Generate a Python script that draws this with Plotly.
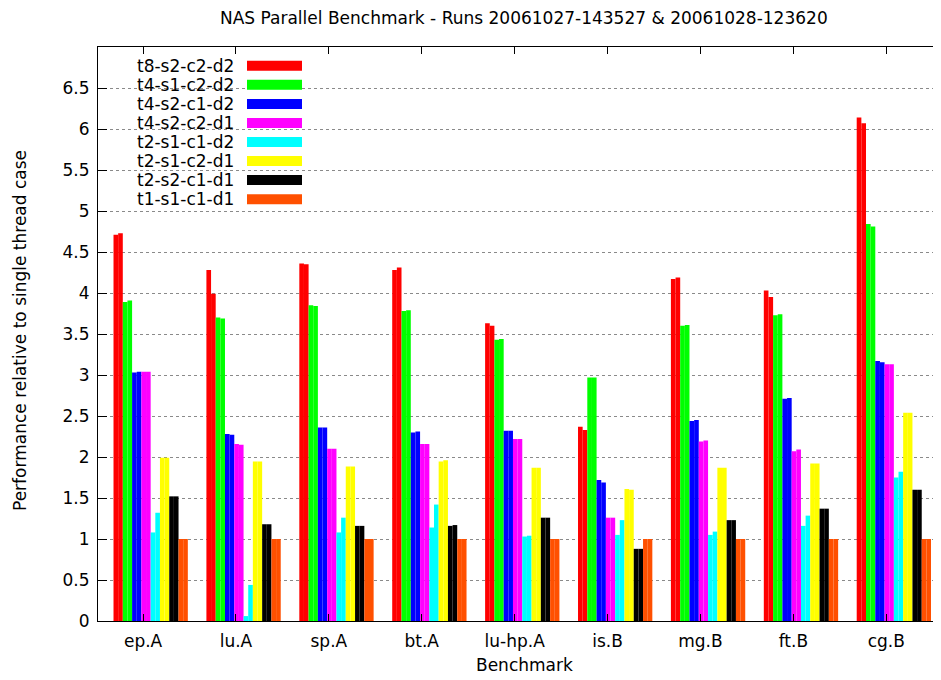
import plotly.graph_objects as go

benchmarks = ["ep.A", "lu.A", "sp.A", "bt.A", "lu-hp.A", "is.B", "mg.B", "ft.B", "cg.B"]
series_names = ["t8-s2-c2-d2", "t4-s1-c2-d2", "t4-s2-c1-d2", "t4-s2-c2-d1",
                "t2-s1-c1-d2", "t2-s1-c2-d1", "t2-s2-c1-d1", "t1-s1-c1-d1"]
series_colors = ["#ff0000", "#00ff00", "#0000ff", "#ff00ff",
                 "#00ffff", "#ffff00", "#000000", "#ff5000"]
y_ticks = [0, 0.5, 1, 1.5, 2, 2.5, 3, 3.5, 4, 4.5, 5, 5.5, 6, 6.5]

# first run (20061027-143527) and second run (20061028-123620)
t8s2c2d2_r1 = [4.71, 4.28, 4.36, 4.28, 3.63, 2.37, 4.17, 4.03, 6.14]
t8s2c2d2_r2 = [4.73, 3.99, 4.35, 4.31, 3.60, 2.33, 4.19, 3.95, 6.07]
t4s1c2d2_r1 = [3.89, 3.70, 3.85, 3.78, 3.43, 2.97, 3.60, 3.73, 4.84]
t4s1c2d2_r2 = [3.91, 3.69, 3.84, 3.79, 3.44, 2.97, 3.61, 3.74, 4.81]
t4s2c1d2_r1 = [3.03, 2.28, 2.36, 2.30, 2.32, 1.72, 2.44, 2.71, 3.17]
t4s2c1d2_r2 = [3.04, 2.27, 2.36, 2.31, 2.32, 1.69, 2.45, 2.72, 3.155]
t4s2c2d1_r1 = [3.04, 2.16, 2.10, 2.16, 2.22, 1.26, 2.19, 2.07, 3.13]
t4s2c2d1_r2 = [3.04, 2.15, 2.10, 2.16, 2.22, 1.26, 2.20, 2.09, 3.13]
t2s1c1d2_r1 = [1.08, 0.06, 1.08, 1.14, 1.03, 1.05, 1.05, 1.16, 1.75]
t2s1c1d2_r2 = [1.32, 0.44, 1.26, 1.42, 1.04, 1.23, 1.09, 1.285, 1.82]
t2s1c2d1_r1 = [1.99, 1.945, 1.885, 1.945, 1.87, 1.61, 1.87, 1.92, 2.54]
t2s1c2d1_r2 = [1.99, 1.945, 1.885, 1.96, 1.87, 1.60, 1.87, 1.92, 2.54]
t2s2c1d1_r1 = [1.52, 1.18, 1.16, 1.16, 1.26, 0.88, 1.23, 1.37, 1.60]
t2s2c1d1_r2 = [1.52, 1.18, 1.16, 1.17, 1.26, 0.88, 1.23, 1.37, 1.60]
t1s1c1d1_r1 = [1.0, 1.0, 1.0, 1.0, 1.0, 1.0, 1.0, 1.0, 1.0]
t1s1c1d1_r2 = [1.0, 1.0, 1.0, 1.0, 1.0, 1.0, 1.0, 1.0, 1.0]

runs = [
    (t8s2c2d2_r1, t8s2c2d2_r2),
    (t4s1c2d2_r1, t4s1c2d2_r2),
    (t4s2c1d2_r1, t4s2c1d2_r2),
    (t4s2c2d1_r1, t4s2c2d1_r2),
    (t2s1c1d2_r1, t2s1c1d2_r2),
    (t2s1c2d1_r1, t2s1c2d1_r2),
    (t2s2c1d1_r1, t2s2c1d1_r2),
    (t1s1c1d1_r1, t1s1c1d1_r2),
]

# page body has an 8px margin; lay out in page pixels and compensate
OFF = 8
W, H = 941, 680
L = 98 - OFF
T = 47 - OFF
B = H - (621 - OFF)
R = 0
PW, PH = W - L - R, H - T - B
FONT = "DejaVu Sans"
FS = 17

def px_x(p):
    return (p - OFF - L) / PW

def px_y(p):
    return (H - B - (p - OFF)) / PH

fig = go.Figure()
xs = list(range(len(benchmarks)))
slot = 0.1
start = -0.318
for s, (r1, r2) in enumerate(runs):
    for r, vals in enumerate((r1, r2)):
        fig.add_trace(go.Bar(
            x=xs, y=vals, name=series_names[s], showlegend=False,
            width=slot / 2, offset=start + s * slot + r * slot / 2,
            marker=dict(color=series_colors[s], line=dict(width=0)),
        ))

shapes = []
annotations = []
# legend box (opaque, hides grid)
shapes.append(dict(type="rect", xref="paper", yref="paper",
                   x0=px_x(99), x1=px_x(312), y0=px_y(208), y1=px_y(48),
                   fillcolor="white", line=dict(width=0), layer="between"))
row0, dy = 65.8, 19.05
for i, (nm, col) in enumerate(zip(series_names, series_colors)):
    yc = row0 + i * dy
    shapes.append(dict(type="rect", xref="paper", yref="paper",
                       x0=px_x(247), x1=px_x(302), y0=px_y(yc + 5), y1=px_y(yc - 5),
                       fillcolor=col, line=dict(width=0), layer="above"))
    annotations.append(dict(text=nm, xref="paper", yref="paper",
                            x=px_x(236), y=px_y(yc), xanchor="right", yanchor="middle",
                            showarrow=False, font=dict(family=FONT, size=FS, color="black")))

annotations.append(dict(text="Benchmark", xref="paper", yref="paper",
                        x=px_x(524), y=px_y(665), xanchor="center", yanchor="middle",
                        showarrow=False, font=dict(family=FONT, size=FS, color="black")))
annotations.append(dict(text="Performance relative to single thread case", xref="paper", yref="paper",
                        x=px_x(20), y=px_y(331), xanchor="center", yanchor="middle",
                        textangle=-90, showarrow=False,
                        font=dict(family=FONT, size=FS, color="black")))
annotations.append(dict(text="NAS Parallel Benchmark - Runs 20061027-143527 & 20061028-123620",
                        xref="paper", yref="paper",
                        x=px_x(524), y=px_y(18), xanchor="center", yanchor="middle",
                        showarrow=False, font=dict(family=FONT, size=FS, color="black")))

fig.update_layout(
    width=W, height=H,
    margin=dict(l=L, r=R, t=T, b=B, pad=0),
    paper_bgcolor="white", plot_bgcolor="white",
    barmode="overlay",
    font=dict(family=FONT, size=FS, color="black"),
    shapes=shapes, annotations=annotations,
    showlegend=False,
)
fig.update_xaxes(
    range=[-0.485, -0.485 + PW / 92.9],
    tickvals=xs, ticktext=benchmarks,
    ticks="inside", ticklen=7, tickcolor="black",
    showline=True, linecolor="black", linewidth=1, mirror="ticks",
    showgrid=False, zeroline=False, ticklabelstandoff=5,
    tickfont=dict(family=FONT, size=FS, color="black"),
)
fig.update_yaxes(
    range=[0, 7],
    tickvals=y_ticks, ticktext=[f"{v:g}" for v in y_ticks],
    ticks="inside", ticklen=9, tickcolor="black",
    showline=True, linecolor="black", linewidth=1,
    showgrid=True, gridcolor="#8a8a8a", griddash="dot", gridwidth=1,
    zeroline=False, ticklabelstandoff=4,
    tickfont=dict(family=FONT, size=FS, color="black"),
)

fig.write_html("out.html")
